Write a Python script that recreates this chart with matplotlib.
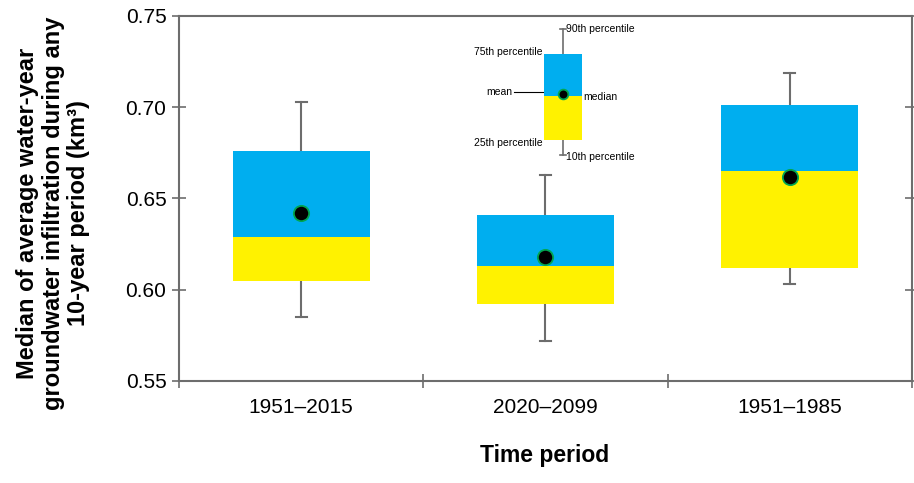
import numpy as np
import matplotlib
matplotlib.use("Agg")
import matplotlib.pyplot as plt

plt.rcParams["font.family"] = ["Liberation Sans", "DejaVu Sans"]

# values
periods = ["1951\u20132015", "2020\u20132099", "1951\u20131985"]
p10 = [0.585, 0.572, 0.603]
p25 = [0.605, 0.592, 0.612]
p50 = [0.629, 0.613, 0.665]
p75 = [0.676, 0.641, 0.701]
p90 = [0.703, 0.663, 0.719]
means = [0.642, 0.618, 0.662]

# schematic key box drawn inside the plot
key_x = 1.07
key_stats = {"p10": 0.674, "p25": 0.682, "p50": 0.706, "p75": 0.729, "p90": 0.743, "mean": 0.7075}

blue = "#00aeef"
yellow = "#fff200"
grey = "#6d6d6d"
green = "#00a651"


def draw_box(ax, x, lo, q1, med, q3, hi, mu, w, capw, ms, lw=1.5):
    ax.plot([x, x], [q3, hi], color=grey, lw=lw, zorder=2)
    ax.plot([x, x], [lo, q1], color=grey, lw=lw, zorder=2)
    ax.plot([x - capw / 2, x + capw / 2], [hi, hi], color=grey, lw=lw, zorder=2)
    ax.plot([x - capw / 2, x + capw / 2], [lo, lo], color=grey, lw=lw, zorder=2)
    ax.bar(x, med - q1, bottom=q1, width=w, color=yellow, zorder=3)
    ax.bar(x, q3 - med, bottom=med, width=w, color=blue, zorder=3)
    ax.plot(x, mu, "o", color="black", mec=green, mew=1.3, ms=ms, zorder=4)


fig = plt.figure(figsize=(9.14, 4.83), dpi=100)
ax = fig.add_axes([0.1958, 0.2112, 0.8020, 0.7557])

for i in range(len(periods)):
    draw_box(ax, i, p10[i], p25[i], p50[i], p75[i], p90[i], means[i], 0.56, 0.045, 11)

k = key_stats
draw_box(ax, key_x, k["p10"], k["p25"], k["p50"], k["p75"], k["p90"], k["mean"], 0.155, 0.025, 7, lw=1.2)
fs = 7.5
dx = 0.155 / 2
ax.text(key_x + 0.015, k["p90"], "90th percentile", fontsize=fs, va="center", ha="left")
ax.text(key_x - dx - 0.005, k["p75"] + 0.0015, "75th percentile", fontsize=fs, va="center", ha="right")
ax.text(key_x - dx - 0.005, k["p25"] - 0.0015, "25th percentile", fontsize=fs, va="center", ha="right")
ax.text(key_x + 0.015, k["p10"] - 0.0015, "10th percentile", fontsize=fs, va="center", ha="left")
ax.text(key_x + dx + 0.008, k["p50"] - 0.0003, "median", fontsize=fs, va="center", ha="left")
ax.plot([key_x - 0.2, key_x - 0.03], [k["mean"] + 0.001, k["mean"] + 0.001], color="black", lw=0.8, zorder=2)
ax.text(key_x - 0.205, k["mean"] + 0.001, "mean", fontsize=fs, va="center", ha="right")

ax.set_xlim(-0.5, 2.5)
ax.set_ylim(0.55, 0.75)
ax.set_yticks([0.55, 0.60, 0.65, 0.70, 0.75])
ax.set_yticklabels(["0.55", "0.60", "0.65", "0.70", "0.75"])
ax.set_xticks(range(len(periods)))
ax.set_xticklabels(periods)
ax.set_xticks([-0.5, 0.5, 1.5, 2.5], minor=True)

for s in ax.spines.values():
    s.set_color(grey)
    s.set_linewidth(1.5)

ax.tick_params(axis="x", which="major", length=0, labelsize=15, pad=12)
ax.tick_params(axis="x", which="minor", direction="inout", length=10, width=1.2, color=grey)
ax.tick_params(axis="y", which="major", direction="inout", length=10, width=1.2, color=grey,
               labelsize=15, pad=4, right=True)

fig.text(0.058, 0.559, "Median of average water-year\ngroundwater infiltration during any\n10-year period (km\u00b3)",
         fontsize=17, fontweight="bold", rotation=90, ha="center", va="center", multialignment="center",
         linespacing=1.15)
fig.text(0.596, 0.033, "Time period", fontsize=16.5, fontweight="bold", ha="center", va="bottom")

fig.savefig("out.png", dpi=100)
